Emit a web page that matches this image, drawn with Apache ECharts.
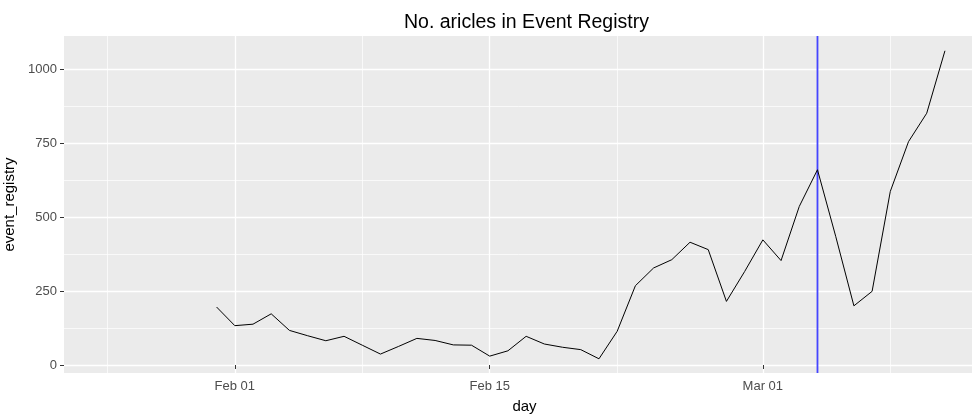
<!DOCTYPE html>
<html>
<head>
<meta charset="utf-8">
<script src="https://cdn.jsdelivr.net/npm/echarts@6/dist/echarts.min.js"></script>
<style>
  html, body { margin: 0; padding: 0; background: #fff; }
  #chart { width: 972px; height: 414px; }
</style>
</head>
<body>
<div id="chart"></div>
<script>
// daily article counts
const days = [
  '2016-01-31',
  '2016-02-01', '2016-02-02', '2016-02-03', '2016-02-04', '2016-02-05', '2016-02-06', '2016-02-07',
  '2016-02-08', '2016-02-09', '2016-02-10', '2016-02-11', '2016-02-12', '2016-02-13', '2016-02-14',
  '2016-02-15', '2016-02-16', '2016-02-17', '2016-02-18', '2016-02-19', '2016-02-20', '2016-02-21',
  '2016-02-22', '2016-02-23', '2016-02-24', '2016-02-25', '2016-02-26', '2016-02-27', '2016-02-28',
  '2016-02-29', '2016-03-01', '2016-03-02', '2016-03-03', '2016-03-04', '2016-03-05', '2016-03-06',
  '2016-03-07', '2016-03-08', '2016-03-09', '2016-03-10', '2016-03-11'
];
const eventRegistry = [
  196,
  133, 138, 173, 117, 99, 82, 97,
  67, 37, 63, 90, 83, 68, 67,
  30, 48, 97, 71, 60, 52, 21,
  114, 268, 328, 356, 415, 390, 215,
  316, 423, 353, 536, 660, 435, 200,
  249, 587, 755, 851, 1062
];
const xBreaks = ['2016-02-01', '2016-02-15', '2016-03-01'];
const xMinorBreaks = ['2016-01-25', '2016-02-08', '2016-02-22', '2016-03-08'];
const yBreaks = [0, 250, 500, 750, 1000];
const yMinorBreaks = [125, 375, 625, 875];
const markerDay = '2016-03-04';
const yLimits = [-27, 1112];

const DAY = 86400000;
function ts(s) {
  const p = s.split('-').map(Number);
  return Date.UTC(p[0], p[1] - 1, p[2]);
}
const MONTHS = ['Jan', 'Feb', 'Mar', 'Apr', 'May', 'Jun', 'Jul', 'Aug', 'Sep', 'Oct', 'Nov', 'Dec'];
function fmtDay(v) {
  const d = new Date(v);
  return MONTHS[d.getUTCMonth()] + ' ' + String(d.getUTCDate()).padStart(2, '0');
}

const chart = echarts.init(document.getElementById('chart'), null, { renderer: 'canvas' });
const font = 'Liberation Sans, Arial, sans-serif';

chart.setOption({
  animation: false,
  backgroundColor: '#ffffff',
  title: {
    text: 'No. aricles in Event Registry',
    left: 399,
    top: 8,
    textStyle: { fontFamily: font, fontSize: 19.5, fontWeight: 'normal', color: '#000' }
  },
  grid: {
    left: 64, right: -13, top: 36, bottom: 41,
    containLabel: false,
    outerBoundsMode: 'none',
    show: true, backgroundColor: '#ebebeb', borderWidth: 0
  },
  xAxis: {
    // dates as UTC millisecond timestamps on a linear scale
    type: 'value',
    min: ts('2016-02-01') - 9.38 * DAY,
    max: ts('2016-02-01') + 41.2 * DAY,
    name: 'day',
    nameLocation: 'middle',
    nameGap: 26,
    nameTextStyle: { fontFamily: font, fontSize: 15, color: '#000' },
    axisLine: { show: false },
    axisTick: {
      show: true, length: 4, inside: false,
      lineStyle: { color: '#333', width: 1 },
      customValues: xBreaks.map(ts)
    },
    axisLabel: {
      fontFamily: font, fontSize: 13, color: '#4d4d4d', margin: 7,
      customValues: xBreaks.map(ts),
      formatter: fmtDay
    },
    splitLine: { show: true, lineStyle: { color: '#ffffff', width: 1.3 } }
  },
  yAxis: {
    type: 'value',
    min: yLimits[0],
    max: yLimits[1],
    name: 'event_registry',
    nameLocation: 'middle',
    nameGap: 35,
    nameRotate: 90,
    nameTextStyle: { fontFamily: font, fontSize: 15, color: '#000' },
    axisLine: { show: false },
    axisTick: {
      show: true, length: 4,
      lineStyle: { color: '#333', width: 1 },
      customValues: yBreaks
    },
    axisLabel: {
      fontFamily: font, fontSize: 13, color: '#4d4d4d', margin: 7,
      customValues: yBreaks,
      formatter: v => String(v)
    },
    splitLine: { show: true, lineStyle: { color: '#ffffff', width: 1.3 } }
  },
  series: [
    {
      // minor grid lines
      type: 'line',
      data: [],
      silent: true,
      markLine: {
        z: 1,
        silent: true,
        symbol: ['none', 'none'],
        label: { show: false },
        lineStyle: { color: '#ffffff', width: 0.7, type: 'solid' },
        data: xMinorBreaks.map(d => ({ xAxis: ts(d) }))
          .concat(yMinorBreaks.map(v => ({ yAxis: v })))
      }
    },
    {
      // blue vertical marker (geom_vline)
      type: 'line',
      z: 2,
      data: yLimits.map(v => [ts(markerDay), v]),
      symbol: 'none',
      showSymbol: false,
      silent: true,
      itemStyle: { color: '#4545ff' },
      lineStyle: { color: '#4545ff', width: 1.8 }
    },
    {
      type: 'line',
      z: 3,
      data: days.map((d, i) => [ts(d), eventRegistry[i]]),
      showSymbol: false,
      symbol: 'none',
      itemStyle: { color: '#000000' },
      lineStyle: { color: '#000000', width: 1 },
      silent: true
    }
  ]
});
</script>
</body>
</html>
